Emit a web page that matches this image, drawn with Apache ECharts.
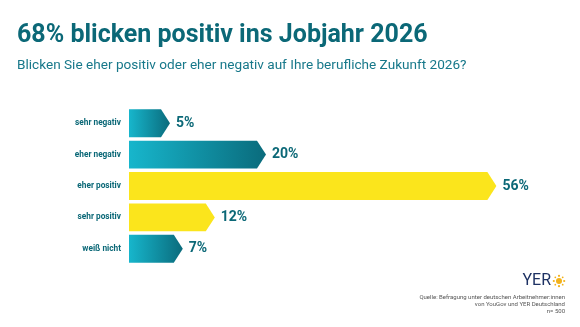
<!DOCTYPE html>
<html><head><meta charset="utf-8">
<script src="https://cdn.jsdelivr.net/npm/echarts@6/dist/echarts.min.js"></script>
<style>html,body{margin:0;padding:0;background:#fff}#c{width:580px;height:327px}</style>
</head><body><div id="c"></div>
<script>
const categories = ['sehr negativ','eher negativ','eher positiv','sehr positiv','weiß nicht'];
const values = [5, 20, 56, 12, 7];
const barKind = ['neg','neg','pos','pos','neg'];
const title = '68% blicken positiv ins Jobjahr 2026';
const subtitle = 'Blicken Sie eher positiv oder eher negativ auf Ihre berufliche Zukunft 2026?';
const sourceLines = ['Quelle: Befragung unter deutschen Arbeitnehmer:innen','von YouGov und YER Deutschland','n= 500'];

const TEAL = '#0b6877';
const chart = echarts.init(document.getElementById('c'), null, {renderer:'canvas'});
const tealGrad = () => new echarts.graphic.LinearGradient(0,0,1,0,[{offset:0,color:'#17b6cc'},{offset:1,color:'#0a6b7c'}]);

chart.setOption({
  animation:false,
  title:[
    {text:title,left:12,top:18,textStyle:{fontFamily:'Roboto',fontWeight:'bold',fontSize:25,color:TEAL}},
    {text:subtitle,left:12,top:54,textStyle:{fontFamily:'Roboto',fontWeight:'normal',fontSize:13.6,color:'#17788a'}}
  ],
  grid:{left:129,top:107.5,width:448,height:157,containLabel:false},
  xAxis:{type:'value',min:0,max:70,show:false},
  yAxis:{type:'category',data:categories,inverse:true,
    axisLine:{show:false},axisTick:{show:false},
    axisLabel:{margin:8,fontFamily:'Roboto',fontWeight:'bold',fontSize:8.3,color:TEAL}},
  series:[{
    type:'custom',
    data: values.map((v,i)=>[v,i]),
    encode:{x:0,y:1},
    renderItem:function(params, api){
      const v = api.value(0), c = api.value(1);
      const s = api.coord([0,c]);
      const e = api.coord([v,c]);
      const h = api.size([0,1])[1]*0.89;
      const tip = 9;
      const y = s[1];
      const kind = barKind[params.dataIndex];
      return {type:'group',children:[
        {type:'polygon',shape:{points:[[s[0],y-h/2],[e[0],y-h/2],[e[0]+tip,y],[e[0],y+h/2],[s[0],y+h/2]]},
         style:{fill: kind==='neg'? tealGrad() : '#fbe51c'}},
        {type:'text',x:e[0]+tip+6,y:y,style:{text:v+'%',fontFamily:'Roboto',fontWeight:'bold',fontSize:14,fill:TEAL,verticalAlign:'middle',align:'left'}}
      ]};
    }
  }],
  graphic:[
    {type:'text',x:551,y:281,style:{text:'YER',fontFamily:'Roboto',fontWeight:'normal',fontSize:16,fill:'#1d3163',align:'right',verticalAlign:'middle'}},
    {type:'group',x:553,y:275,children:[
      {type:'circle',shape:{cx:6,cy:6,r:3},style:{fill:'#f2b21b'}},
      {type:'circle',shape:{cx:6,cy:0.8,r:1.1},style:{fill:'#f2b21b'}},
      {type:'circle',shape:{cx:6,cy:11.2,r:1.1},style:{fill:'#f2b21b'}},
      {type:'circle',shape:{cx:0.8,cy:6,r:1.1},style:{fill:'#f2b21b'}},
      {type:'circle',shape:{cx:11.2,cy:6,r:1.1},style:{fill:'#f2b21b'}},
      {type:'circle',shape:{cx:2.3,cy:2.3,r:0.9},style:{fill:'#f2b21b'}},
      {type:'circle',shape:{cx:9.7,cy:2.3,r:0.9},style:{fill:'#f2b21b'}},
      {type:'circle',shape:{cx:2.3,cy:9.7,r:0.9},style:{fill:'#f2b21b'}},
      {type:'circle',shape:{cx:9.7,cy:9.7,r:0.9},style:{fill:'#f2b21b'}}
    ]},
    {type:'text',x:565,y:297,style:{text:sourceLines[0],fontFamily:'Roboto',fontSize:6,fill:'#555',align:'right',verticalAlign:'middle'}},
    {type:'text',x:565,y:304,style:{text:sourceLines[1],fontFamily:'Roboto',fontSize:6,fill:'#555',align:'right',verticalAlign:'middle'}},
    {type:'text',x:565,y:311,style:{text:sourceLines[2],fontFamily:'Roboto',fontSize:6,fill:'#555',align:'right',verticalAlign:'middle'}}
  ]
});
</script></body></html>
